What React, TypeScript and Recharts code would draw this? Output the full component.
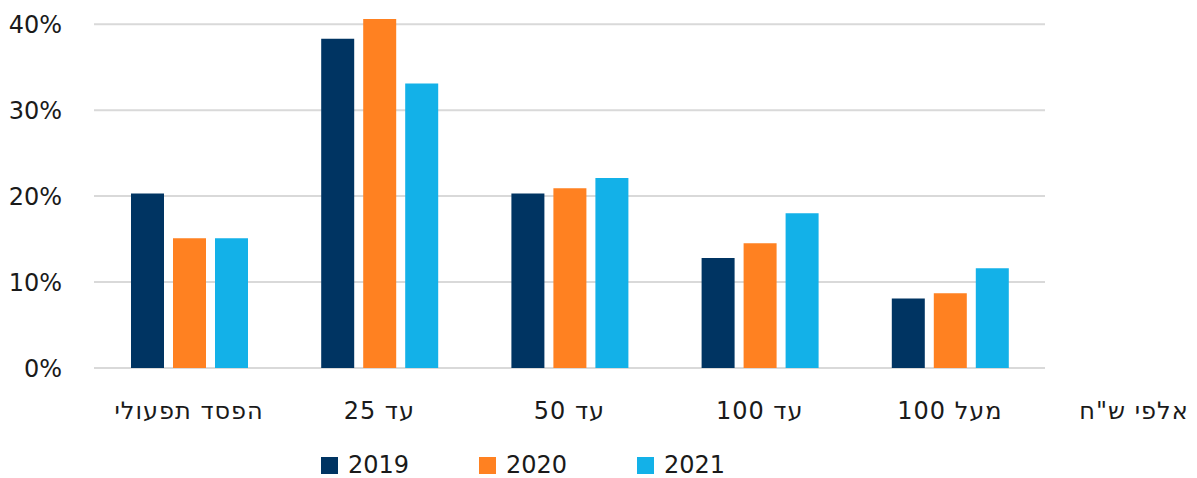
import React from "react";
import {
  BarChart,
  Bar,
  CartesianGrid,
  XAxis,
  YAxis,
  Legend,
} from "recharts";

const categories = ["הפסד תפעולי", "עד 25", "עד 50", "עד 100", "מעל 100"];
const series2019 = [20.3, 38.3, 20.3, 12.8, 8.1];
const series2020 = [15.1, 40.6, 20.9, 14.5, 8.7];
const series2021 = [15.1, 33.1, 22.1, 18.0, 11.6];
const yTicks = [0, 10, 20, 30, 40];
const unitLabel = 'אלפי ש"ח';

const FONT = "'DejaVu Sans', sans-serif";
const TEXT = "#1a1a1a";

const seriesInfo = [
  { key: "2019", color: "#003462" },
  { key: "2020", color: "#FF8121" },
  { key: "2021", color: "#13B1E8" },
];

const data = categories.map((name, i) => ({
  name,
  "2019": series2019[i],
  "2020": series2020[i],
  "2021": series2021[i],
}));

function CategoryTick(props: any) {
  const { x, y, payload } = props;
  return (
    <text
      x={x}
      y={y + 17}
      textAnchor="middle"
      direction="rtl"
      fill={TEXT}
      fontSize={24}
      fontFamily={FONT}
      letterSpacing={1}
    >
      {payload.value}
    </text>
  );
}

function UnitLabel(props: any) {
  const { viewBox } = props;
  const y = viewBox.y + 51;
  return (
    <text
      x={1134}
      y={y}
      textAnchor="middle"
      direction="rtl"
      fill={TEXT}
      fontSize={24}
      fontFamily={FONT}
      letterSpacing={1}
    >
      {unitLabel}
    </text>
  );
}

function LegendBox() {
  return (
    <div
      style={{
        display: "flex",
        fontFamily: FONT,
        fontSize: 24,
        lineHeight: "30px",
        height: 30,
        color: TEXT,
      }}
    >
      {seriesInfo.map((s) => (
        <div
          key={s.key}
          style={{ width: 158, display: "flex", alignItems: "center" }}
        >
          <span
            style={{
              display: "inline-block",
              width: 17,
              height: 17,
              background: s.color,
              marginRight: 10,
            }}
          />
          <span>{s.key}</span>
        </div>
      ))}
    </div>
  );
}

export default function App() {
  return (
    <div style={{ position: "absolute", left: 0, top: 0, background: "#fff" }}>
      <BarChart
        width={1197}
        height={478}
        data={data}
        margin={{ top: 7, right: 152, bottom: 20, left: 0 }}
        barSize={33}
        barGap={9}
      >
        <CartesianGrid
          vertical={false}
          horizontalValues={yTicks}
          stroke="#d9d9d9"
          strokeWidth={2}
        />
        <XAxis
          dataKey="name"
          axisLine={false}
          tickLine={false}
          height={60}
          tickMargin={28}
          tick={<CategoryTick />}
          label={<UnitLabel />}
        />
        <YAxis
          width={94}
          domain={[0, 42]}
          ticks={yTicks}
          axisLine={false}
          tickLine={false}
          tickMargin={26}
          tickFormatter={(v: number) => `${v}%`}
          tick={{ fill: TEXT, fontSize: 24, fontFamily: FONT }}
        />
        <Legend
          content={<LegendBox />}
          wrapperStyle={{ left: 321, top: 450, width: 500, height: 30 }}
        />
        {seriesInfo.map((s) => (
          <Bar
            key={s.key}
            dataKey={s.key}
            fill={s.color}
            isAnimationActive={false}
          />
        ))}
      </BarChart>
    </div>
  );
}
